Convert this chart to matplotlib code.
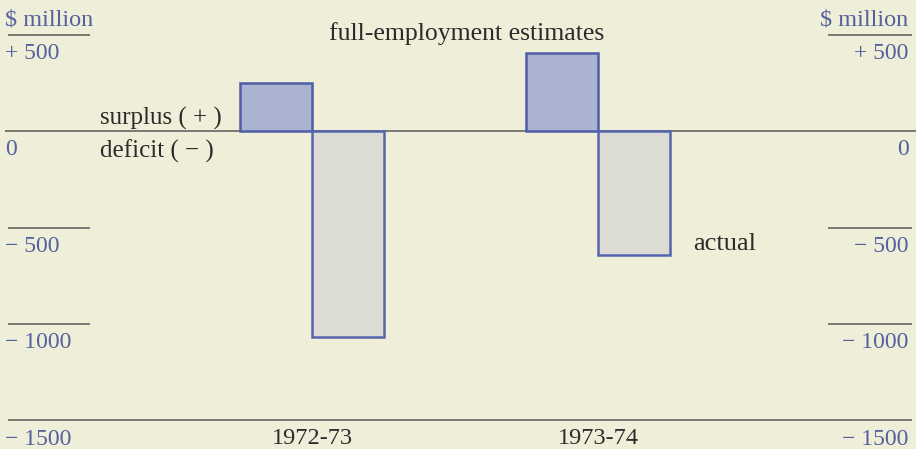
import matplotlib.pyplot as plt
import numpy as np

categories = ['1972-73', '1973-74']
full_employment = [250, 405]
actual = [-1065, -645]
tick_values = [500, 0, -500, -1000, -1500]
tick_labels = ['+ 500', '0', '\u2212 500', '\u2212 1000', '\u2212 1500']

bg = '#efeed9'
blue_text = '#55609e'
dark = '#2b2b2b'
line_col = '#5a5a5a'

plt.rcParams['font.family'] = ['Liberation Serif', 'DejaVu Serif']

fig = plt.figure(figsize=(9.16, 4.49), dpi=100, facecolor=bg)
ax = fig.add_axes([0, 0, 1, 1])
ax.set_facecolor(bg)

x = np.arange(len(categories))
w = 0.252
ax.bar(x - w / 2, full_employment, w, color='#aab4d0', edgecolor='#4f5da6', lw=1.8, zorder=3)
ax.bar(x + w / 2, actual, w, color='#dcdcd5', edgecolor='#5564ae', lw=1.8, zorder=3)

ax.set_xlim(-312 / 286, (916 - 312) / 286)
ax.set_ylim(-(449 - 131) / 96.5 * 500, 131 / 96.5 * 500)
ax.axis('off')

ytr = ax.get_yaxis_transform()
ax.hlines(0, 0.006, 1.0, transform=ytr, color=line_col, lw=1.1, zorder=2)
ax.hlines(-1500, 0.009, 0.996, transform=ytr, color=line_col, lw=1.1, zorder=2)
for v in [500, -500, -1000]:
    ax.hlines(v, 0.009, 0.098, transform=ytr, color=line_col, lw=1.1)
    ax.hlines(v, 0.904, 0.996, transform=ytr, color=line_col, lw=1.1)

for v, lab in zip(tick_values, tick_labels):
    ax.annotate(lab, xy=(0.006, v), xycoords=ytr, xytext=(0, -6), textcoords='offset points',
                ha='left', va='top', fontsize=17, color=blue_text)
    ax.annotate(lab, xy=(0.992, v), xycoords=ytr, xytext=(0, -6), textcoords='offset points',
                ha='right', va='top', fontsize=17, color=blue_text)

ax.text(0.006, 0.978, '$ million', transform=ax.transAxes, ha='left', va='top',
        fontsize=17.5, color=blue_text)
ax.text(0.992, 0.978, '$ million', transform=ax.transAxes, ha='right', va='top',
        fontsize=17.5, color=blue_text)

ax.text(0.509, 1 - 34 / 449, 'full-employment estimates', transform=ax.transAxes,
        ha='center', va='center', fontsize=18.5, color=dark)
ax.text(0.109, 1 - 125 / 449, 'surplus ( + )', transform=ax.transAxes,
        ha='left', va='baseline', fontsize=18, color=dark)
ax.text(0.109, 1 - 158 / 449, 'deficit ( \u2212 )', transform=ax.transAxes,
        ha='left', va='baseline', fontsize=18, color=dark)
ax.text(693 / 916, 1 - 244 / 449, 'actual', transform=ax.transAxes,
        ha='left', va='center', fontsize=19, color=dark)

xtr = ax.get_xaxis_transform()
for i, c in enumerate(categories):
    ax.text(x[i], 1 - 439 / 449, c, transform=xtr, ha='center', va='center',
            fontsize=17.5, color=dark)

plt.savefig('out.png', dpi=100, facecolor=bg)
